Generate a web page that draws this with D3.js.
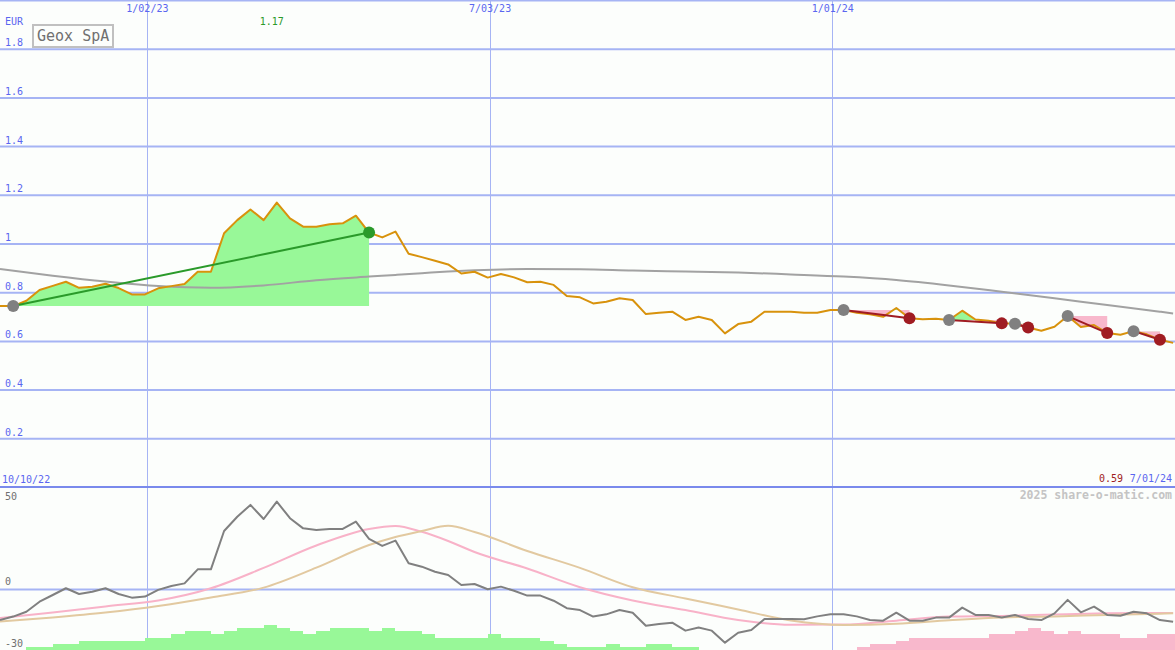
<!DOCTYPE html>
<html><head><meta charset="utf-8">
<script src="https://cdn.jsdelivr.net/npm/d3@7"></script>
<style>body{margin:0;background:#fcfefc}svg{display:block}</style>
</head><body><svg id="c" width="1175" height="650"></svg>
<script>
// ---------- data ----------
const title = "Geox SpA";
const currency = "EUR";
const firstWeek = "2022-10-16";            // weekly closes, one per week
const leftLabel = "10/10/22";
const rightLabel = "7/01/24";
const dateTickLabels = ["1/02/23", "7/03/23", "1/01/24"];
const priceTicks = [0.2, 0.4, 0.6, 0.8, 1, 1.2, 1.4, 1.6, 1.8];
const oscTicks = [50, 0, -30];

const price = [
  0.743,0.743,0.765,0.809,0.826,0.843,0.818,0.822,0.835,0.817,
  0.791,0.791,0.816,0.825,0.834,0.884,0.884,1.042,1.096,1.140,
  1.096,1.168,1.103,1.069,1.069,1.079,1.083,1.114,1.045,1.025,
  1.049,0.958,0.944,0.929,0.914,0.877,0.884,0.860,0.875,0.861,
  0.841,0.843,0.830,0.784,0.779,0.754,0.761,0.775,0.768,0.710,
  0.716,0.720,0.686,0.699,0.686,0.631,0.669,0.679,0.720,0.720,
  0.720,0.716,0.716,0.727,0.727,0.716,0.709,0.699,0.735,0.693,
  0.689,0.691,0.686,0.724,0.688,0.683,0.672,0.670,0.655,0.642,
  0.658,0.702,0.657,0.665,0.632,0.625,0.640,0.627,0.605,0.592];

// smooth series read at these week numbers
const sampleWeeks = [0,4,8,12,16,20,24,28,30,32,34,36,40,44,48,52,56,60,64,68,72,76,80,84,88,89];
const movingAvg = [0.895,0.868,0.844,0.825,0.818,0.828,0.849,0.864,0.871,0.878,0.885,0.890,0.895,
  0.894,0.889,0.885,0.881,0.873,0.864,0.850,0.828,0.802,0.775,0.747,0.720,0.713];
const oscPink = [-14.3,-11.6,-8.6,-5.7,0.3,10.3,21.3,29.4,30.9,28.0,23.5,18.1,10.0,
  0.8,-5.7,-10.4,-15.3,-17.6,-17.5,-15.6,-13.6,-13.3,-12.6,-12.0,-11.8,-11.9];
const oscTan = [-16.0,-14.0,-11.6,-8.4,-4.2,0.6,10.4,21.5,25.5,28.4,31.0,27.9,18.6,
  10.3,0.8,-4.7,-10.1,-15.5,-17.7,-17.1,-15.4,-14.0,-13.5,-12.8,-12.2,-12.0];

const oscGray = [
  -15.3,-13.6,-11.2,-6.3,-3.0,0.3,-2.5,-1.4,0.3,-2.5,
  -4.3,-3.8,-0.5,1.4,2.7,9.6,9.6,28.4,35.4,41.2,
  34.3,42.8,34.7,29.7,28.9,29.4,29.4,33.0,24.5,21.1,
  23.7,12.6,10.9,8.4,6.8,1.9,2.4,-0.2,1.1,-0.9,
  -3.3,-3.3,-5.8,-9.5,-10.4,-13.6,-12.5,-10.4,-11.7,-18.1,
  -17.2,-16.6,-20.5,-19.0,-20.5,-26.4,-21.5,-20.2,-14.8,-14.8,
  -14.8,-14.9,-13.5,-12.5,-12.5,-13.5,-15.3,-15.6,-11.7,-15.6,
  -15.6,-14.1,-14.1,-9.2,-12.8,-12.8,-14.1,-12.8,-14.8,-15.3,
  -12.0,-5.4,-11.5,-8.7,-12.8,-13.2,-11.2,-12.0,-15.3,-16.1];

const histLevel = [
  0,0,1,1,2,2,3,3,3,3,
  3,4,4,5,6,6,5,6,7,7,
  8,7,6,5,6,7,7,7,6,7,
  6,6,5,4,4,4,4,5,4,4,
  4,3,2,1,1,1,2,1,1,2,
  2,1,1,0,0,0,0,0,0,0,
  0,0,0,0,0,-1,-2,-2,-3,-4,
  -4,-4,-4,-4,-4,-5,-5,-6,-7,-6,
  -5,-6,-5,-5,-5,-4,-4,-5,-5,-5];

const tradeEntry = [1, 64, 72, 77, 81, 86];
const tradeExit  = [28, 69, 76, 78, 84, 88];
const tradeWin   = [true, false, false, false, false, false];

// ---------- setup ----------
const W = 1175, H = 650, SPLIT = 487;
const svg = d3.select("#c");
const FONT = "'DejaVu Sans Mono', 'Liberation Mono', monospace";
const C = {
  bg: "#fcfefc", grid: "#a6b4f4", divider: "#7a8aec", label: "#5a66f0",
  price: "#d8920c", ma: "#a2a2a2", gray: "#808080", pink: "#f8b2c8", tan: "#e2c9a0",
  fillG: "#98f898", fillP: "#f8b8cc", lineG: "#2a9a2a", lineR: "#a01c22", dot: "#808080"
};

const t0 = d3.timeParse("%Y-%m-%d")(firstWeek);
const weekDate = j => d3.timeDay.offset(t0, 7 * j);
const x = d3.scaleTime().domain([t0, d3.timeParse("%m/%d/%y")(rightLabel)]).range([0, W]);
const yP = d3.scaleLinear().domain([0, 2]).range([SPLIT, 0]);
const yO = d3.scaleLinear().domain([-30, 50]).range([H, SPLIT]);
const hY = d3.scaleLinear().domain([0, 8]).range([H, 625]);

svg.append("rect").attr("width", W).attr("height", H).attr("fill", C.bg);

const defs = svg.append("defs");
defs.append("clipPath").attr("id", "clipTop").append("rect").attr("x", 0).attr("y", 0).attr("width", W).attr("height", SPLIT);
defs.append("clipPath").attr("id", "clipBot").append("rect").attr("x", 0).attr("y", SPLIT).attr("width", W).attr("height", H - SPLIT);

// ---------- grid / axes ----------
const gY = svg.append("g").call(d3.axisLeft(yP).tickValues(priceTicks).tickSize(-W).tickFormat(d => String(d)));
gY.select(".domain").remove();
gY.selectAll("line").attr("stroke", C.grid).attr("stroke-width", 2);
gY.selectAll("text").attr("x", 5).attr("dy", -3).attr("text-anchor", "start")
  .attr("fill", C.label).style("font", `10px ${FONT}`);

const gO = svg.append("g").call(d3.axisLeft(yO).tickValues(oscTicks).tickSize(-W).tickFormat(d => String(d)));
gO.select(".domain").remove();
gO.selectAll("line").attr("stroke", d => d === 0 ? C.grid : "none").attr("stroke-width", 2);
gO.selectAll("text").attr("x", 5).attr("dy", d => d === 50 ? 12 : -4).attr("text-anchor", "start")
  .attr("fill", "#707070").style("font", `10px ${FONT}`);

const tickDates = dateTickLabels.map(d3.timeParse("%m/%d/%y"));
const gX = svg.append("g").call(d3.axisTop(x).tickValues(tickDates).tickSize(-H).tickFormat((d, i) => dateTickLabels[i]));
gX.select(".domain").remove();
gX.selectAll("line").attr("stroke", C.grid).attr("stroke-width", 1).attr("shape-rendering", "crispEdges");
gX.selectAll("text").attr("y", 12).attr("dy", 0).attr("fill", C.label).style("font", `10px ${FONT}`);

svg.append("line").attr("x1", 0).attr("x2", W).attr("y1", 0.5).attr("y2", 0.5).attr("stroke", C.grid).attr("stroke-width", 2);

// ---------- trade fills ----------
const gTop = svg.append("g").attr("clip-path", "url(#clipTop)");
tradeEntry.forEach((e, k) => {
  const seg = d3.range(e, tradeExit[k] + 1);
  const lvl = yP(price[e]);
  const area = d3.area().x(j => x(weekDate(j))).y0(lvl).y1(j => yP(price[j]));
  const idA = "ab" + k, idB = "be" + k;
  defs.append("clipPath").attr("id", idA).append("rect").attr("x", 0).attr("y", 0).attr("width", W).attr("height", lvl);
  defs.append("clipPath").attr("id", idB).append("rect").attr("x", 0).attr("y", lvl).attr("width", W).attr("height", SPLIT - lvl);
  gTop.append("path").datum(seg).attr("d", area).attr("fill", C.fillG).attr("clip-path", `url(#${idA})`);
  gTop.append("path").datum(seg).attr("d", area).attr("fill", C.fillP).attr("clip-path", `url(#${idB})`);
});

// ---------- histogram ----------
const gBot = svg.append("g").attr("clip-path", "url(#clipBot)");
gBot.selectAll("rect.h").data(histLevel.map((v, j) => ({v, j})).filter(d => d.v !== 0)).join("rect")
  .attr("class", "h")
  .attr("x", d => x(weekDate(d.j)))
  .attr("width", d => x(weekDate(d.j + 1)) - x(weekDate(d.j)))
  .attr("y", d => hY(Math.abs(d.v)))
  .attr("height", d => H - hY(Math.abs(d.v)))
  .attr("fill", d => d.v > 0 ? C.fillG : C.fillP)
  .attr("shape-rendering", "crispEdges");

// divider between panels
svg.append("line").attr("x1", 0).attr("x2", W).attr("y1", SPLIT).attr("y2", SPLIT).attr("stroke", C.divider).attr("stroke-width", 2);

// ---------- lines ----------
const smooth = (ys, vals) => d3.line().curve(d3.curveMonotoneX)
  .x((d, i) => x(weekDate(sampleWeeks[i]))).y((d, i) => ys(vals[i]));
gTop.append("path").datum(movingAvg).attr("d", smooth(yP, movingAvg)).attr("fill", "none").attr("stroke", C.ma).attr("stroke-width", 2);

const priceLine = d3.line().x((d, j) => x(weekDate(j))).y(d => yP(d));
gTop.append("path").datum(price).attr("d", priceLine).attr("fill", "none").attr("stroke", C.price).attr("stroke-width", 2).attr("stroke-linejoin", "round");

gBot.append("path").datum(oscPink).attr("d", smooth(yO, oscPink)).attr("fill", "none").attr("stroke", C.pink).attr("stroke-width", 2);
gBot.append("path").datum(oscTan).attr("d", smooth(yO, oscTan)).attr("fill", "none").attr("stroke", C.tan).attr("stroke-width", 2);
gBot.append("path").datum(oscGray).attr("d", d3.line().x((d, j) => x(weekDate(j))).y(d => yO(d)))
  .attr("fill", "none").attr("stroke", C.gray).attr("stroke-width", 2).attr("stroke-linejoin", "round");

// ---------- trade lines & dots ----------
tradeEntry.forEach((e, k) => {
  const xo = tradeExit[k];
  gTop.append("line")
    .attr("x1", x(weekDate(e))).attr("y1", yP(price[e]))
    .attr("x2", x(weekDate(xo))).attr("y2", yP(price[xo]))
    .attr("stroke", tradeWin[k] ? C.lineG : C.lineR).attr("stroke-width", 2);
});
tradeEntry.forEach((e, k) => {
  const xo = tradeExit[k];
  gTop.append("circle").attr("cx", x(weekDate(e))).attr("cy", yP(price[e])).attr("r", 6).attr("fill", C.dot);
  gTop.append("circle").attr("cx", x(weekDate(xo))).attr("cy", yP(price[xo])).attr("r", 6).attr("fill", tradeWin[k] ? C.lineG : C.lineR);
});

// ---------- texts ----------
svg.append("text").attr("x", 5).attr("y", 25).text(currency).attr("fill", C.label).style("font", `10px ${FONT}`);
svg.append("rect").attr("x", 33).attr("y", 25).attr("width", 80).attr("height", 22)
  .attr("fill", "#fcfefc").attr("stroke", "#c0c0c0").attr("stroke-width", 2);
svg.append("text").attr("x", 37).attr("y", 41).text(title).attr("fill", "#707070").style("font", `15px ${FONT}`);

const peak = d3.maxIndex(price);
svg.append("text").attr("x", x(weekDate(peak)) - 5).attr("y", 25).attr("text-anchor", "middle")
  .text(d3.format(".2f")(price[peak])).attr("fill", C.lineG).style("font", `10px ${FONT}`);

svg.append("text").attr("x", 2).attr("y", 483).text(leftLabel).attr("fill", C.label).style("font", `10px ${FONT}`);
svg.append("text").attr("x", 1172).attr("y", 482).attr("text-anchor", "end").text(rightLabel).attr("fill", C.label).style("font", `10px ${FONT}`);
svg.append("text").attr("x", 1123).attr("y", 482).attr("text-anchor", "end")
  .text(d3.format(".2f")(price[price.length - 1])).attr("fill", C.lineR).style("font", `10px ${FONT}`);
svg.append("text").attr("x", 1172).attr("y", 499).attr("text-anchor", "end").text("2025 share-o-matic.com")
  .attr("fill", "#c4c4c4").style("font", `bold 11.5px ${FONT}`);
</script></body></html>
